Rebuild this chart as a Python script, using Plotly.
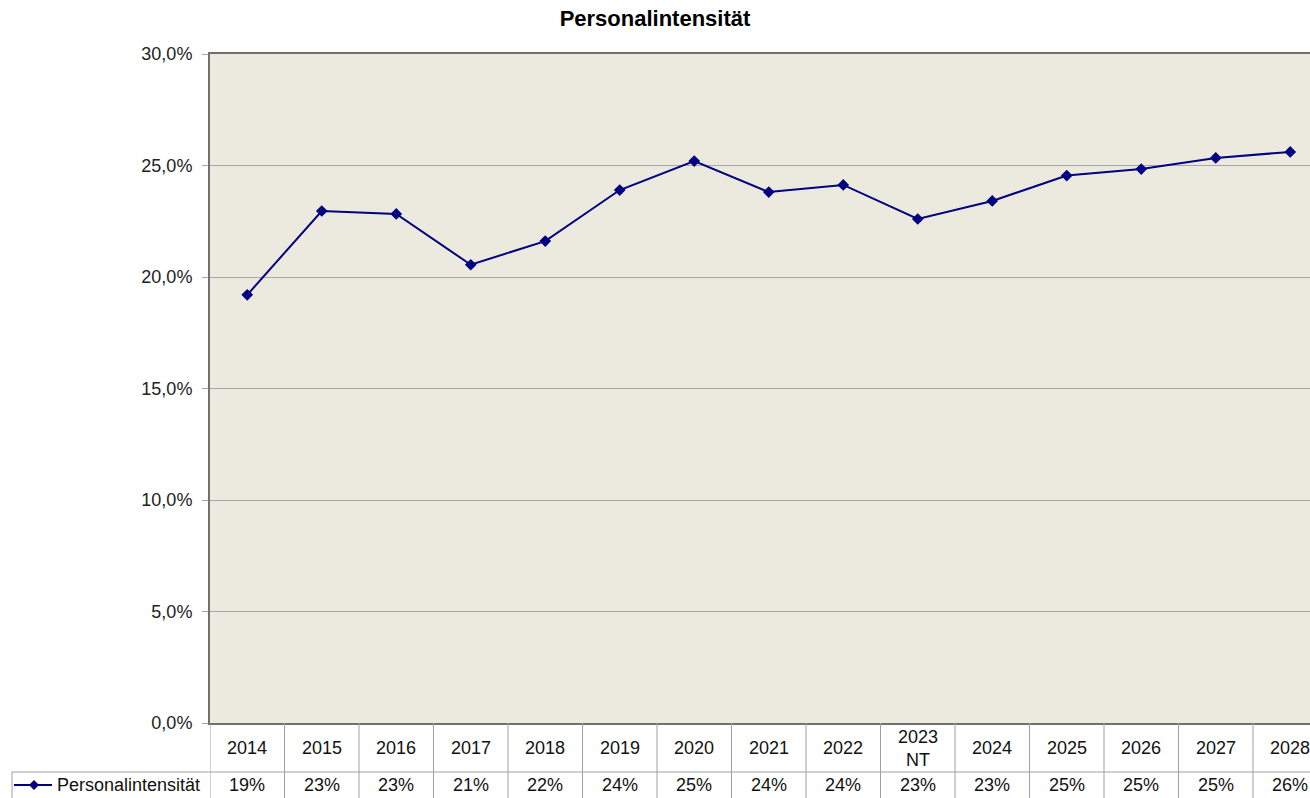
import plotly.graph_objects as go

categories = ["2014", "2015", "2016", "2017", "2018", "2019", "2020", "2021",
              "2022", "2023<br>NT", "2024", "2025", "2026", "2027", "2028"]
values = [19.2, 22.96, 22.83, 20.55, 21.61, 23.9, 25.2, 23.81,
          24.13, 22.6, 23.41, 24.55, 24.84, 25.34, 25.61]
table_labels = ["19%", "23%", "23%", "21%", "22%", "24%", "25%", "24%",
                "24%", "23%", "23%", "25%", "25%", "25%", "26%"]
series_name = "Personalintensität"
y_ticks = [0, 5, 10, 15, 20, 25, 30]
y_tick_text = ["0,0%", "5,0%", "10,0%", "15,0%", "20,0%", "25,0%", "30,0%"]

W, H = 1310, 798
ML, MT, MB = 210, 54, 75
plot_h = H - MT - MB
plot_w = W - ML


def py(pix):
    # pixel row -> paper y
    return (H - MB - pix) / plot_h


def px(pix):
    return (pix - ML) / plot_w


font = "Liberation Sans, Arial, sans-serif"
navy = "#000080"
grid_c = "#A8A8A8"
axis_c = "#707070"
tab_c = "#A0A0A0"

fig = go.Figure()
fig.add_trace(go.Scatter(
    x=categories, y=values, mode="lines+markers", name=series_name,
    line=dict(color=navy, width=2),
    marker=dict(symbol="diamond", size=9, color=navy),
    cliponaxis=False, showlegend=False,
))

n = len(categories)
x_end = -0.5 + plot_w / 74.5

shapes = []
shapes.append(dict(type="line", xref="paper", yref="paper", x0=px(12), x1=1,
                   y0=py(772), y1=py(772), line=dict(color=tab_c, width=1)))
shapes.append(dict(type="line", xref="paper", yref="paper", x0=px(12), x1=px(12),
                   y0=py(772), y1=py(800), line=dict(color=tab_c, width=1)))
for i in range(n):
    xb = i - 0.5
    shapes.append(dict(type="line", xref="x", yref="paper", x0=xb, x1=xb,
                       y0=0, y1=py(800), line=dict(color=tab_c, width=1)))

# legend key in the table (line + diamond)
ly = 785
shapes.append(dict(type="line", xref="paper", yref="paper", x0=px(14), x1=px(52),
                   y0=py(ly), y1=py(ly), line=dict(color=navy, width=2)))
cx, r = 34, 5
shapes.append(dict(type="path", xref="paper", yref="paper",
                   path=(f"M {px(cx - r)},{py(ly)} L {px(cx)},{py(ly - r)} "
                         f"L {px(cx + r)},{py(ly)} L {px(cx)},{py(ly + r)} Z"),
                   fillcolor=navy, line=dict(color=navy, width=0)))

annotations = []
for i, (c, lab) in enumerate(zip(categories, table_labels)):
    annotations.append(dict(x=i, xref="x", y=py(748), yref="paper", text=c,
                            showarrow=False, yanchor="middle", xanchor="center",
                            font=dict(family=font, size=18, color="#111")))
    annotations.append(dict(x=i, xref="x", y=py(785), yref="paper", text=lab,
                            showarrow=False, yanchor="middle", xanchor="center",
                            font=dict(family=font, size=18, color="#111")))
annotations.append(dict(x=px(55), xref="paper", y=py(785), yref="paper",
                        text=series_name, showarrow=False, xanchor="left",
                        yanchor="middle",
                        font=dict(family=font, size=18, color="#111")))

fig.update_layout(
    width=W, height=H,
    margin=dict(l=ML, r=0, t=MT, b=MB, pad=0),
    paper_bgcolor="white",
    plot_bgcolor="#ECE9DF",
    title=dict(text="<b>Personalintensität</b>", x=0.5, xref="container",
               y=1 - 18 / H, yref="container", yanchor="middle", xanchor="center",
               font=dict(family=font, size=22, color="#000")),
    showlegend=False,
    xaxis=dict(type="category", range=[-0.5, x_end], showgrid=False,
               showticklabels=False, ticks="", showline=True, linecolor=axis_c,
               linewidth=2, mirror=True, zeroline=False, fixedrange=True),
    yaxis=dict(range=[0, 30], tickvals=y_ticks, ticktext=y_tick_text,
               showgrid=True, gridcolor=grid_c, gridwidth=1, showline=True,
               linecolor=axis_c, linewidth=2, ticks="outside", ticklen=6,
               tickcolor=grid_c, ticklabelstandoff=6, zeroline=False,
               tickfont=dict(family=font, size=18, color="#222"), fixedrange=True),
    shapes=shapes,
    annotations=annotations,
)

fig.write_html("out.html", config={"displayModeBar": False},
               post_script="document.body.style.margin='0';document.body.style.overflow='hidden';")
